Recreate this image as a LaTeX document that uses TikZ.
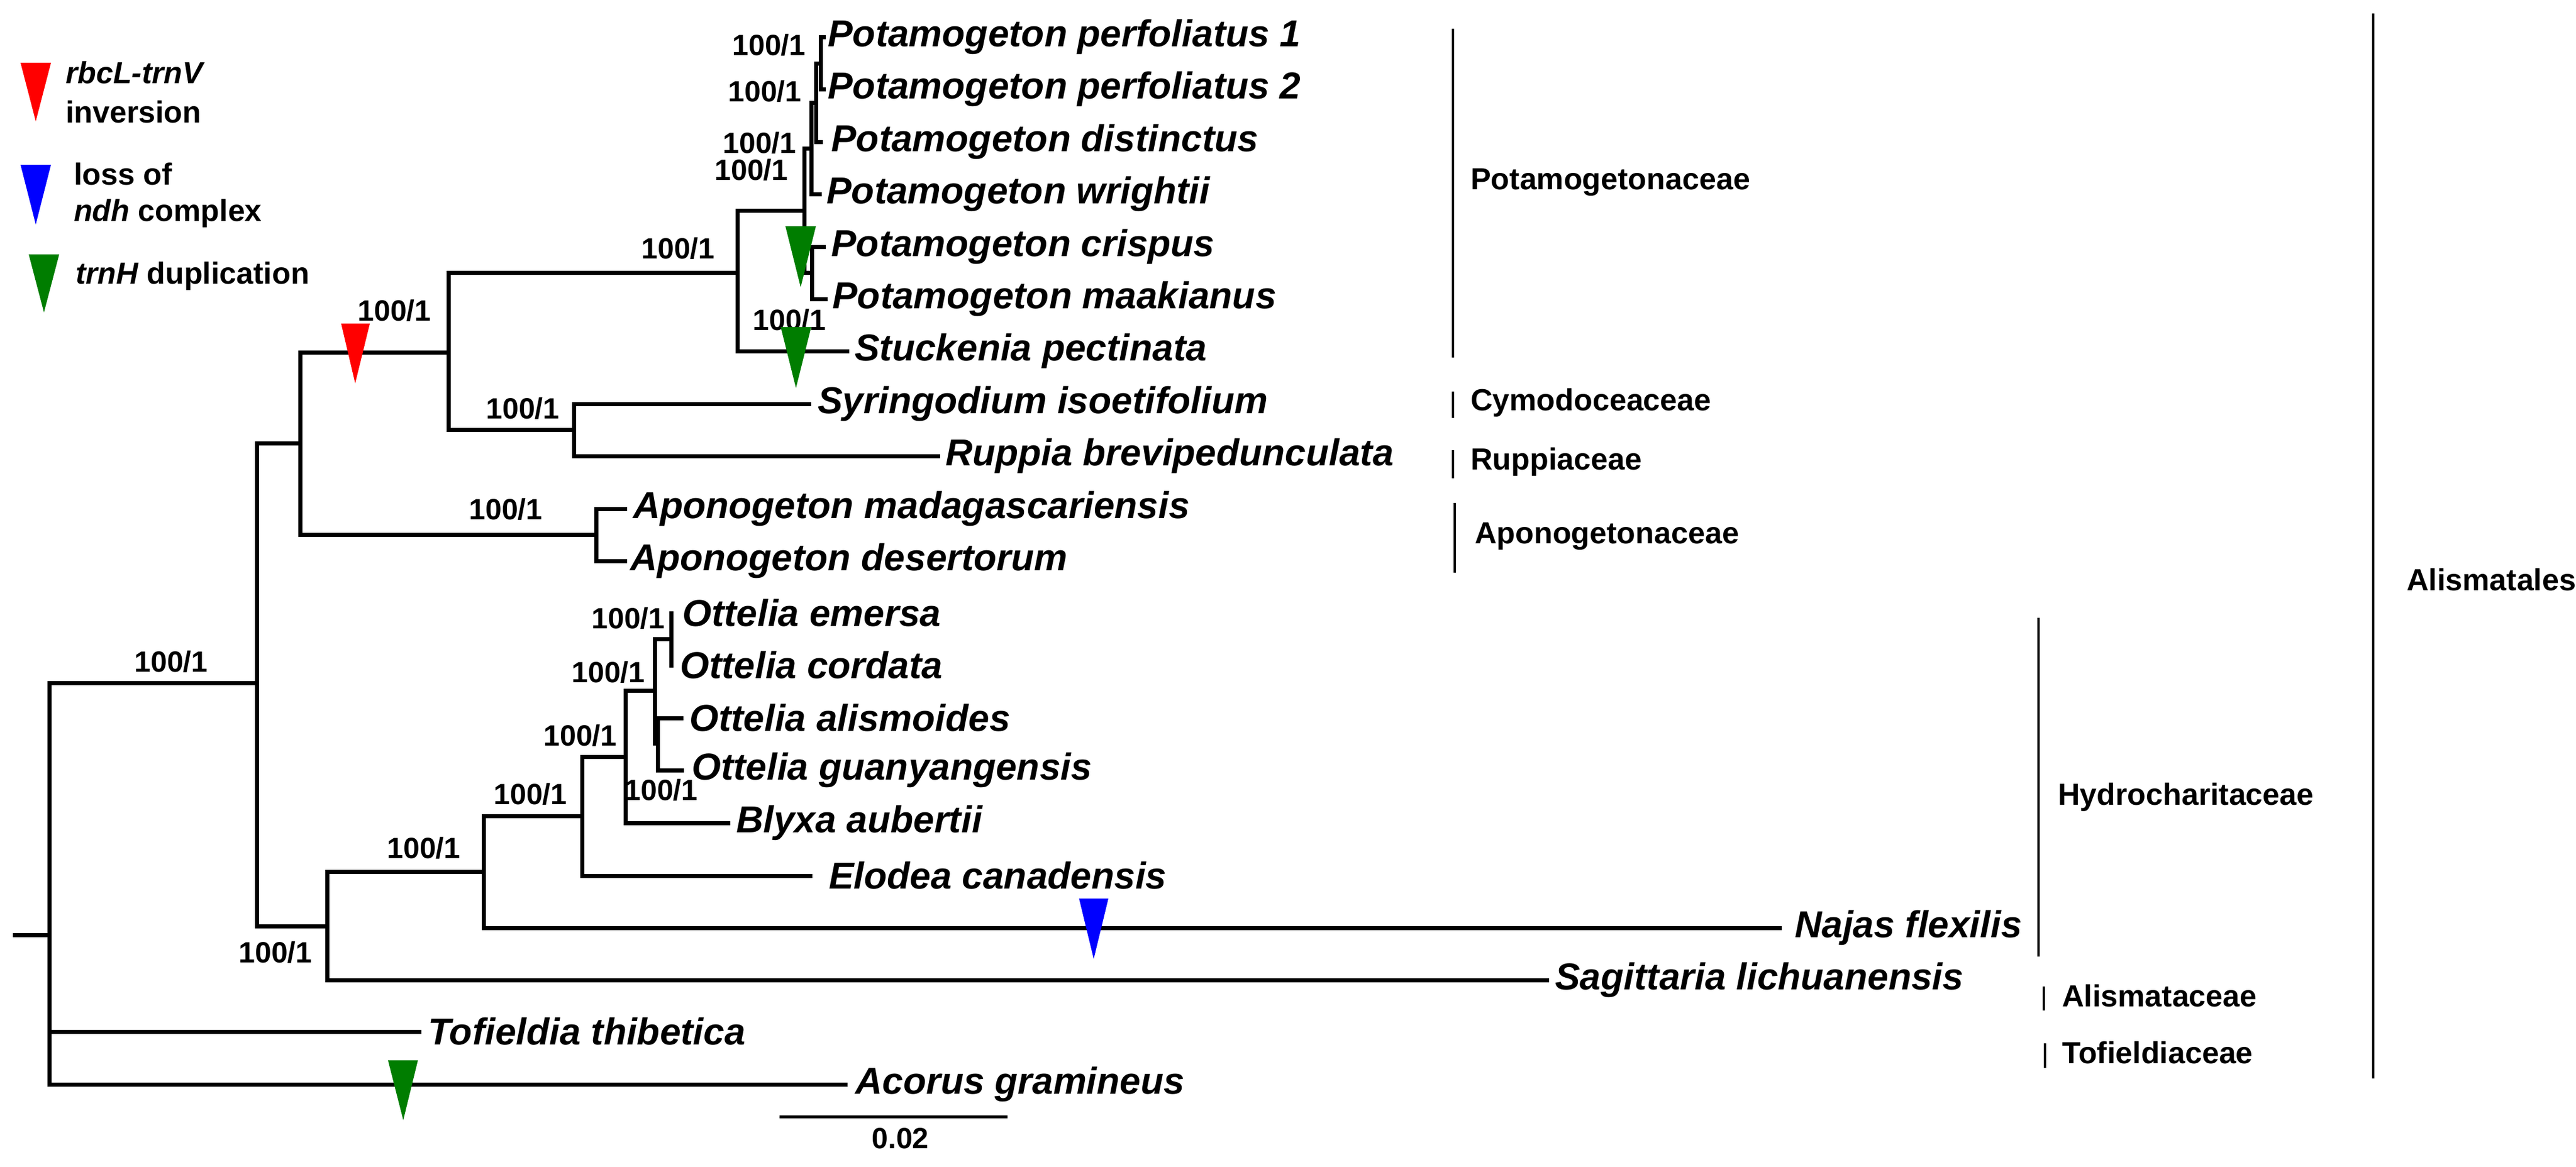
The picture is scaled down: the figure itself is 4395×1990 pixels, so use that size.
\documentclass[tikz,border=0pt]{standalone}
\usepackage{fontspec}
\setmainfont{Liberation Sans}
\begin{document}
\begin{tikzpicture}[x=1pt,y=-1pt,
  br/.style={line width=7pt,line cap=rect},
  fam/.style={line width=4pt},
  sp/.style={anchor=west,inner sep=0pt,font=\fontsize{64}{70}\selectfont\bfseries\itshape},
  bs/.style={inner sep=0pt,font=\fontsize{50}{56}\selectfont\bfseries},
  famt/.style={anchor=west,inner sep=0pt,font=\fontsize{52}{58}\selectfont\bfseries},
  lg/.style={anchor=west,inner sep=0pt,font=\fontsize{52}{58}\selectfont\bfseries},
  tri/.style={draw=none}]
\useasboundingbox (0,0) rectangle (4395,1990);
\definecolor{gr}{RGB}{0,125,0}
% internal nodes
\coordinate (root) at (84,1595);
\coordinate (rs) at (25,1595);
\coordinate (A) at (438,1165);
\coordinate (B) at (512,756);
\coordinate (C) at (765,601);
\coordinate (D) at (1258,465);
\coordinate (E) at (1372,359);
\coordinate (P) at (1384,253);
\coordinate (S) at (1392,175);
\coordinate (T) at (1400,108);
\coordinate (Q) at (1385,465);
\coordinate (SR) at (979,733);
\coordinate (Ap) at (1017,912);
\coordinate (H) at (558,1580);
\coordinate (I) at (825,1487);
\coordinate (J) at (993,1392);
\coordinate (K) at (1067,1291);
\coordinate (L) at (1117,1178);
\coordinate (M) at (1145,1090);
\coordinate (N) at (1122,1268);
% tips
\coordinate (t1) at (1405,63);
\coordinate (t2) at (1405,152);
\coordinate (t3) at (1400,242);
\coordinate (t4) at (1398,331);
\coordinate (t5) at (1405,421);
\coordinate (t6) at (1408,510);
\coordinate (t7) at (1445,599);
\coordinate (t8) at (1380,689);
\coordinate (t9) at (1600,778);
\coordinate (t10) at (1066,868);
\coordinate (t11) at (1066,957);
\coordinate (t12) at (1145,1046);
\coordinate (t13) at (1145,1135);
\coordinate (t14) at (1162,1225);
\coordinate (t15) at (1163,1314);
\coordinate (t16) at (1242,1404);
\coordinate (t17) at (1382,1494);
\coordinate (t18) at (3036,1583);
\coordinate (t19) at (2639,1672);
\coordinate (t20) at (715,1760);
\coordinate (t21) at (1442,1850);
% branches
\draw[br] (rs) -- (root);
\draw[br] (root) |- (A); \draw[br] (root) |- (t20); \draw[br] (root) |- (t21);
\draw[br] (A) |- (B); \draw[br] (A) |- (H);
\draw[br] (B) |- (C); \draw[br] (B) |- (Ap);
\draw[br] (C) |- (D); \draw[br] (C) |- (SR);
\draw[br] (D) |- (E); \draw[br] (D) |- (t7);
\draw[br] (E) |- (P); \draw[br] (E) |- (Q);
\draw[br] (P) |- (S); \draw[br] (P) |- (t4);
\draw[br] (S) |- (T); \draw[br] (S) |- (t3);
\draw[br] (T) |- (t1); \draw[br] (T) |- (t2);
\draw[br] (Q) |- (t5); \draw[br] (Q) |- (t6);
\draw[br] (SR) |- (t8); \draw[br] (SR) |- (t9);
\draw[br] (Ap) |- (t10); \draw[br] (Ap) |- (t11);
\draw[br] (H) |- (I); \draw[br] (H) |- (t19);
\draw[br] (I) |- (J); \draw[br] (I) |- (t18);
\draw[br] (J) |- (K); \draw[br] (J) |- (t17);
\draw[br] (K) |- (L); \draw[br] (K) |- (t16);
\draw[br] (L) |- (M); \draw[br] (L) |- (N);
\draw[br] (M) |- (t12); \draw[br] (M) |- (t13);
\draw[br] (N) |- (t14); \draw[br] (N) |- (t15);
% species labels
\node[sp] (n1) at (1412,63) {Potamogeton perfoliatus 1};
\node[sp] (n2) at (1412,152) {Potamogeton perfoliatus 2};
\node[sp] (n3) at (1418,242) {Potamogeton distinctus};
\node[sp] (n4) at (1410,331) {Potamogeton wrightii};
\node[sp] (n5) at (1418,421) {Potamogeton crispus};
\node[sp] (n6) at (1420,510) {Potamogeton maakianus};
\node[sp] (n7) at (1458,599) {Stuckenia pectinata};
\node[sp] (n8) at (1395,689) {Syringodium isoetifolium};
\node[sp] (n9) at (1613,778) {Ruppia brevipedunculata};
\node[sp] (n10) at (1080,868) {Aponogeton madagascariensis};
\node[sp] (n11) at (1075,957) {Aponogeton desertorum};
\node[sp] (n12) at (1164,1046) {Ottelia emersa};
\node[sp] (n13) at (1160,1135) {Ottelia cordata};
\node[sp] (n14) at (1176,1225) {Ottelia alismoides};
\node[sp] (n15) at (1180,1314) {Ottelia guanyangensis};
\node[sp] (n16) at (1256,1404) {Blyxa aubertii};
\node[sp] (n17) at (1414,1494) {Elodea canadensis};
\node[sp] (n18) at (3062,1583) {Najas flexilis};
\node[sp] (n19) at (2653,1672) {Sagittaria lichuanensis};
\node[sp] (n20) at (730,1760) {Tofieldia thibetica};
\node[sp] (n21) at (1459,1850) {Acorus gramineus};
% support labels
\node[bs] (b1) at (1312,77) {100/1};
\node[bs] (b2) at (1305,156) {100/1};
\node[bs] (b3) at (1296,244) {100/1};
\node[bs] (b4) at (1282,290) {100/1};
\node[bs] (b5) at (1347,546) {100/1};
\node[bs] (b6) at (1157,424) {100/1};
\node[bs] (b7) at (673,530) {100/1};
\node[bs] (b8) at (892,697) {100/1};
\node[bs] (b9) at (863,869) {100/1};
\node[bs] (b10) at (292,1129) {100/1};
\node[bs] (b11) at (470,1625) {100/1};
\node[bs] (b12) at (723,1447) {100/1};
\node[bs] (b13) at (905,1355) {100/1};
\node[bs] (b14) at (990,1255) {100/1};
\node[bs] (b15) at (1038,1147) {100/1};
\node[bs] (b16) at (1072,1055) {100/1};
\node[bs] (b17) at (1128,1348) {100/1};
% triangles
\fill[red] (35,107) -- (87,107) -- (61,207) -- cycle;
\fill[blue] (35,281) -- (87,281) -- (61,383) -- cycle;
\fill[gr] (49,434) -- (101,434) -- (75,533) -- cycle;
\fill[red] (582,552) -- (631,552) -- (606,654) -- cycle;
\fill[gr] (1340,386) -- (1392,386) -- (1366,490) -- cycle;
\fill[gr] (1332,558) -- (1384,558) -- (1358,662) -- cycle;
\fill[blue] (1841,1533) -- (1891,1533) -- (1866,1636) -- cycle;
\fill[gr] (662,1809) -- (713,1809) -- (688,1911) -- cycle;
% legend
\node[lg] (l1) at (112,124) {\itshape rbcL-trnV};
\node[lg] (l2) at (112,191) {inversion};
\node[lg] (l3) at (126,297) {loss of};
\node[lg] (l4) at (126,364) {\itshape ndh\upshape\ complex};
\node[lg] (l5) at (129,471) {\itshape trnH\upshape\ duplication};
% families
\draw[fam] (2479,49) -- (2479,610);
\node[famt] (f1) at (2509,311) {Potamogetonaceae};
\draw[fam] (2479,668) -- (2479,713);
\node[famt] (f2) at (2509,687) {Cymodoceaceae};
\draw[fam] (2479,768) -- (2479,816);
\node[famt] (f3) at (2509,788) {Ruppiaceae};
\draw[fam] (2482,858) -- (2482,977);
\node[famt] (f4) at (2516,915) {Aponogetonaceae};
\draw[fam] (3478,1054) -- (3478,1632);
\node[famt] (f5) at (3511,1360) {Hydrocharitaceae};
\draw[fam] (3487,1683) -- (3487,1724);
\node[famt] (f6) at (3518,1699) {Alismataceae};
\draw[fam] (3489,1780) -- (3489,1822);
\node[famt] (f7) at (3518,1796) {Tofieldiaceae};
\draw[fam] (4049,23) -- (4049,1840);
\node[famt] (f8) at (4106,989) {Alismatales};
% scale bar
\coordinate (s1) at (1330,1905); \coordinate (s2) at (1719,1905);
\draw[line width=5pt] (s1) -- (s2);
\node[bs] (sc) at (1536,1942) {0.02};
\end{tikzpicture}
\end{document}
